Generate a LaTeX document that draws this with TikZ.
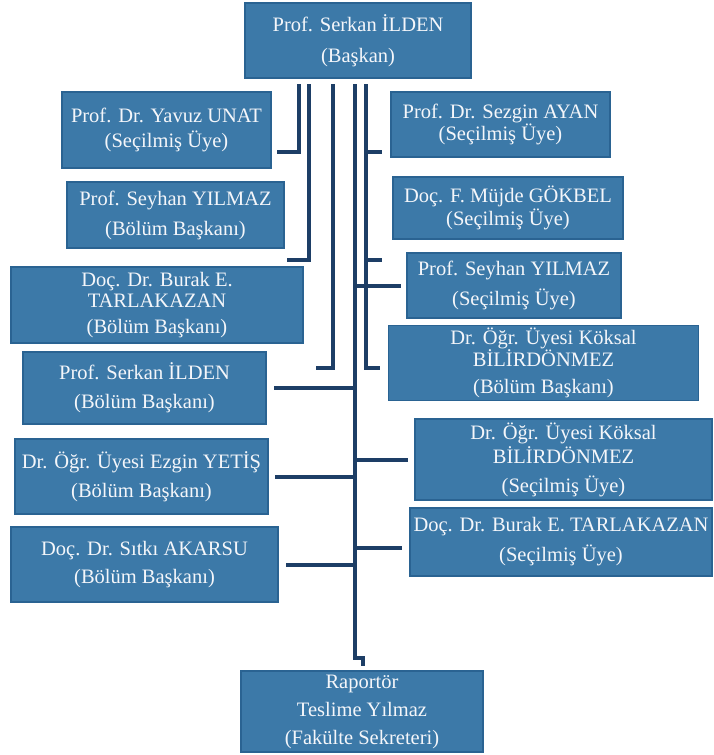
\documentclass[tikz,border=0pt]{standalone}
\usepackage{fontspec}
\setmainfont{Liberation Serif}
\usetikzlibrary{positioning}
\definecolor{boxblue}{HTML}{3C79A8}
\definecolor{boxedge}{HTML}{2A6392}
\definecolor{linkblue}{HTML}{1D3E66}
\definecolor{boxtext}{HTML}{F4F6FA}
\tikzset{
  box/.style={draw=boxedge, fill=boxblue, line width=1.2pt, text=boxtext,
    align=center, inner sep=0pt, font=\fontsize{20.5}{22}\selectfont},
  link/.style={draw=linkblue, line width=4pt},
}

\begin{document}
\begin{tikzpicture}[x=1pt, y=-1pt]
\useasboundingbox (0,0) rectangle (713,755);

\node[box, minimum width=226, minimum height=75] (Bas) at (358,40.5)
  {Prof. Serkan İLDEN\\[9pt](Başkan)};

% left column
\node[box, minimum width=209, minimum height=76] (Unat)   at (166.5,130)
  {Prof. Dr. Yavuz UNAT\\[3pt](Seçilmiş Üye)};
\node[box, minimum width=217, minimum height=66] (SeyB)   at (175.5,215)
  {Prof. Seyhan YILMAZ\\[8pt](Bölüm Başkanı)};
\node[box, minimum width=292, minimum height=76] (BurB)   at (157,305)
  {Doç. Dr. Burak E.\\[-1pt]TARLAKAZAN\\[4pt](Bölüm Başkanı)};
\node[box, minimum width=243, minimum height=72] (SerB)   at (144.5,388)
  {Prof. Serkan İLDEN\\[7pt](Bölüm Başkanı)};
\node[box, minimum width=253, minimum height=75] (Yetis)  at (141.5,476.5)
  {Dr. Öğr. Üyesi Ezgin YETİŞ\\[7pt](Bölüm Başkanı)};
\node[box, minimum width=267, minimum height=75] (Akarsu) at (144.5,564.5)
  {Doç. Dr. Sıtkı AKARSU\\[6pt](Bölüm Başkanı)};

% right column
\node[box, minimum width=219, minimum height=65] (Ayan)   at (500.5,124.5)
  {Prof. Dr. Sezgin AYAN\\[0pt](Seçilmiş Üye)};
\node[box, minimum width=230, minimum height=62] (Gokbel) at (508,208)
  {Doç. F. Müjde GÖKBEL\\[1pt](Seçilmiş Üye)};
\node[box, minimum width=214, minimum height=65] (SeyS)   at (514,285.5)
  {Prof. Seyhan YILMAZ\\[8pt](Seçilmiş Üye)};
\node[box, minimum width=310, minimum height=75] (KokB)   at (543.5,363)
  {Dr. Öğr. Üyesi Köksal\\[0pt]BİLİRDÖNMEZ\\[5pt](Bölüm Başkanı)};
\node[box, minimum width=297, minimum height=81] (KokS)   at (563.5,459.5)
  {Dr. Öğr. Üyesi Köksal\\[2pt]BİLİRDÖNMEZ\\[7pt](Seçilmiş Üye)};
\node[box, minimum width=302, minimum height=68] (BurS)   at (561,542)
  {Doç. Dr. Burak E. TARLAKAZAN\\[8pt](Seçilmiş Üye)};

\node[box, minimum width=242, minimum height=81] (Rap) at (362,711.5)
  {Raportör\\[6pt]Teslime Yılmaz\\[6pt](Fakülte Sekreteri)};

% connector ends
\coordinate (a0) at (299,84);  \coordinate (a1) at (277,152);
\coordinate (b0) at (309,84);  \coordinate (b1) at (287,260);
\coordinate (c0) at (333,84);  \coordinate (c1) at (316,368);
\coordinate (d0) at (355,84);  \coordinate (d1) at (363,666);
\coordinate (e0) at (366,84);  \coordinate (e1) at (380,368);
\coordinate (f1) at ([xshift=-7pt,yshift=-6pt]BurS.west);

\draw[link] (a0) |- (a1);
\draw[link] (b0) |- (b1);
\draw[link] (c0) |- (c1);
\draw[link] (e0) |- (e1);
\draw[link] (e0 |- a1) -- ++(16,0);
\draw[link] (e0 |- b1) -- ++(16,0);
\draw[link] (d0) -- ++(0,574) -- ++(8,0) -- (d1);

\draw[link] (d0 |- SerB.east)   -- ([xshift=7pt]SerB.east);
\draw[link] (d0 |- Yetis.east)  -- ([xshift=6pt]Yetis.east);
\draw[link] (d0 |- Akarsu.east) -- ([xshift=7pt]Akarsu.east);
\draw[link] (d0 |- SeyS.west)   -- ([xshift=-5pt]SeyS.west);
\draw[link] (d0 |- KokS.west)   -- ([xshift=-6pt]KokS.west);
\draw[link] (d0 |- f1) -- (f1);
\end{tikzpicture}
\end{document}
